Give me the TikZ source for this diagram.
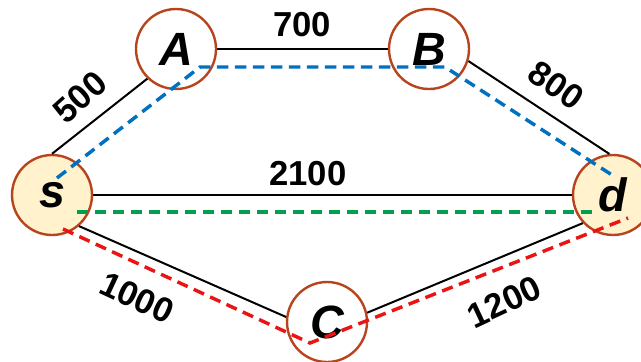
\documentclass[tikz,border=0pt]{standalone}
\usepackage{fontspec}
\setmainfont{Liberation Sans}
\usepackage{tikz}
\usetikzlibrary{calc}
\definecolor{cityBorder}{RGB}{184, 68, 30}
\definecolor{cityFill}{RGB}{255, 242, 204}
\definecolor{routeBlue}{RGB}{0, 112, 192}
\definecolor{routeGreen}{RGB}{0, 160, 80}
\definecolor{routeRed}{RGB}{235, 20, 20}

\tikzset{
    city/.style={circle, draw=cityBorder, line width=1.8pt, fill=white, minimum size=60pt, inner sep=0pt, font=\fontsize{35}{37}\selectfont\bfseries\itshape},
    endcity/.style={city, fill=cityFill},
    link/.style={black, line width=1.5pt},
    weight/.style={font=\fontsize{26}{28}\selectfont\bfseries, inner sep=0pt},
    route/.style={line width=2.6pt, dash pattern=on 8.5pt off 5pt}
}

\begin{document}
\begin{tikzpicture}[x=0.75pt, y=-0.75pt]
    \useasboundingbox (0,0) rectangle (641,361);

    % Cities
    \node[endcity] (s) at (52,195) {s};
    \node[city] (A) at (176,49) {A};
    \node[city] (B) at (429,49) {B};
    \node[city] (C) at (327,322) {C};
    \node[endcity] (d) at (613,195) {d};

    % Links
    \draw[link] (s.90) -- (A.226);
    \draw[link] (A.0) -- (B.180);
    \draw[link] (B.-17) -- (d.95);
    \draw[link] (s.0) -- (d.180);
    \draw[link] (s.-49) -- (C.173);
    \draw[link] (C.13) -- (d.223);

    % Weights
    \node[weight, rotate=42] (wsa) at (80,97) {500};
    \node[weight] (wab) at (302,25) {700};
    \node[weight, rotate=-35] (wbd) at (556,85) {800};
    \node[weight] (wsd) at (308,174) {2100};
    \node[weight, rotate=-25] (wsc) at (137,298) {1000};
    \node[weight, rotate=25] (wcd) at (504,302) {1200};

    % Routes
    \draw[route, routeBlue] ($(s)+(5,-17)$) -- ($(A)+(24,18)$) -- ($(B)+(16,18)$) -- ($(d)+(-1,-20)$);
    \draw[route, routeGreen] ($(s)+(25,17)$) -- ($(d)+(-20,17)$);
    \draw[route, routeRed] ($(s)+(11,34)$) -- ($(C)+(-17,21)$) -- ($(d)+(15,23)$);
\end{tikzpicture}
\end{document}
